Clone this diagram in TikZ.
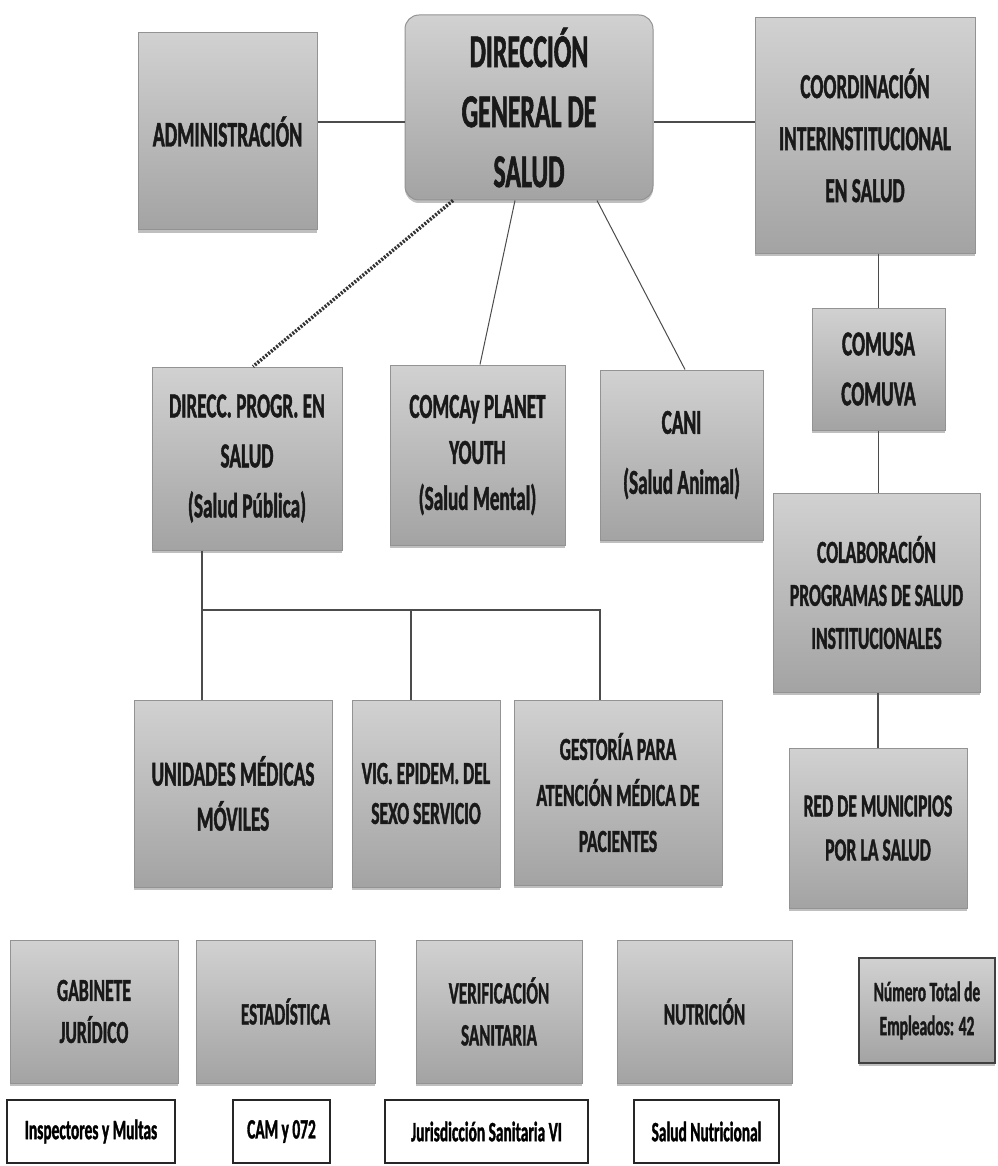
\documentclass[tikz,border=0pt]{standalone}
\usepackage{fontspec}
\setmainfont{Carlito}[FakeStretch=0.55,BoldFeatures={FakeBold=1.2}]
\usetikzlibrary{shadows}
\newcommand{\letra}[2]{\bfseries\fontsize{#1}{#2}\selectfont}

\begin{document}
\begin{tikzpicture}[x=1pt,y=-1pt,
        unidad/.style={rectangle,draw=gray!85,line width=1pt,top color=gray!36,bottom color=gray!72,
            align=center,inner sep=2pt,text=black!90,
            drop shadow={shadow xshift=0pt,shadow yshift=-3pt,opacity=0.5}},
        etiqueta/.style={rectangle,draw=black!85,line width=2pt,fill=white,align=center,inner sep=2pt},
        linea/.style={draw=black!70,line width=1.5pt},
        punteada/.style={draw=black!80,line width=3.5pt,dash pattern=on 2pt off 1.5pt}]
        \useasboundingbox[fill=white] (0,0) rectangle (997,1166);

        \node[unidad,minimum width=179pt,minimum height=197pt,font=\letra{36}{40}] (admin) at (227.5,131.5) {ADMINISTRACIÓN};
        \node[unidad,rounded corners=14pt,minimum width=248pt,minimum height=185pt,font=\letra{47}{60}] (dir) at (529,107.5)
                {DIRECCIÓN\\GENERAL DE\\SALUD};
        \node[unidad,minimum width=220pt,minimum height=235pt,font=\letra{35}{52}] (coord) at (865,135.5)
                {COORDINACIÓN\\INTERINSTITUCIONAL\\EN SALUD};

        \node[unidad,minimum width=190pt,minimum height=183pt,font=\letra{35}{50}] (direcc) at (247,458.5)
                {DIRECC. PROGR. EN\\SALUD\\(Salud Pública)};
        \node[unidad,minimum width=175pt,minimum height=180pt,font=\letra{35}{46}] (comca) at (477.5,455)
                {COMCAy PLANET\\YOUTH\\(Salud Mental)};
        \node[unidad,minimum width=163pt,minimum height=170pt,font=\letra{35}{60}] (cani) at (681.5,455)
                {CANI\\(Salud Animal)};
        \node[unidad,minimum width=133pt,minimum height=122pt,font=\letra{35}{50}] (comusa) at (878.5,369)
                {COMUSA\\COMUVA};
        \node[unidad,minimum width=207pt,minimum height=199pt,font=\letra{32}{43}] (colab) at (876.5,592.5)
                {COLABORACIÓN\\PROGRAMAS DE SALUD\\INSTITUCIONALES};

        \node[unidad,minimum width=198pt,minimum height=187pt,font=\letra{35}{45}] (unidades) at (233,793.5)
                {UNIDADES MÉDICAS\\MÓVILES};
        \node[unidad,minimum width=148pt,minimum height=187pt,font=\letra{32}{40}] (vig) at (426,793.5)
                {VIG. EPIDEM. DEL\\SEXO SERVICIO};
        \node[unidad,minimum width=208pt,minimum height=185pt,font=\letra{32}{46}] (gestoria) at (618,792.5)
                {GESTORÍA PARA\\ATENCIÓN MÉDICA DE\\PACIENTES};
        \node[unidad,minimum width=178pt,minimum height=160pt,font=\letra{32}{44}] (red) at (878,828)
                {RED DE MUNICIPIOS\\POR LA SALUD};

        \node[unidad,minimum width=168pt,minimum height=143pt,font=\letra{32}{42}] (gabinete) at (94,1011.5)
                {GABINETE\\JURÍDICO};
        \node[unidad,minimum width=179pt,minimum height=143pt,font=\letra{31}{42}] (estadistica) at (285.5,1011.5)
                {ESTADÍSTICA};
        \node[unidad,minimum width=166pt,minimum height=143pt,font=\letra{31}{42}] (verificacion) at (499,1011.5)
                {VERIFICACIÓN\\SANITARIA};
        \node[unidad,minimum width=175pt,minimum height=143pt,font=\letra{31}{42}] (nutricion) at (704.5,1011.5)
                {NUTRICIÓN};
        \node[unidad,draw=black!75,line width=2.5pt,minimum width=136pt,minimum height=105pt,font=\letra{28}{34}] (total) at (927,1010.5)
                {Número Total de\\Empleados: 42};

        \node[etiqueta,minimum width=168pt,minimum height=63pt,font=\letra{28}{30}] (inspectores) at (91,1131.5) {Inspectores y Multas};
        \node[etiqueta,minimum width=97pt,minimum height=63pt,font=\letra{28}{30}] (cam) at (281.5,1131.5) {CAM y 072};
        \node[etiqueta,minimum width=203pt,minimum height=63pt,font=\letra{28}{30}] (jurisdiccion) at (486.5,1131.5) {Jurisdicción Sanitaria VI};
        \node[etiqueta,minimum width=145pt,minimum height=63pt,font=\letra{28}{30}] (saludnut) at (706.5,1131.5) {Salud Nutricional};

        \draw[linea] ([yshift=-14.5pt]dir.west) -- ([yshift=-14.5pt]dir.west -| admin.east);
        \draw[linea] ([yshift=-14.5pt]dir.east) -- ([yshift=-14.5pt]dir.east -| coord.west);
        \draw[punteada] ([xshift=-76pt]dir.south) -- ([xshift=6pt]direcc.north);
        \draw[linea,line width=1pt] ([xshift=-14pt]dir.south) -- ([xshift=2.5pt]comca.north);
        \draw[linea,line width=1pt] ([xshift=68pt]dir.south) -- ([xshift=3.5pt]cani.north);

        \coordinate (ramaA) at (202,610);
        \coordinate (ramaB) at (411,610);
        \coordinate (ramaC) at (600,610);
        \draw[linea] (direcc.south -| ramaA) -- (ramaA) -- (ramaC) -- (ramaC |- gestoria.north);
        \draw[linea] (ramaA) -- (ramaA |- unidades.north);
        \draw[linea] (ramaB) -- (ramaB |- vig.north);

        \draw[linea] (comusa.north |- coord.south) -- (comusa.north);
        \draw[linea] (comusa.south) -- (comusa.south |- colab.north);
        \draw[linea] (red.north |- colab.south) -- (red.north);
\end{tikzpicture}
\end{document}
